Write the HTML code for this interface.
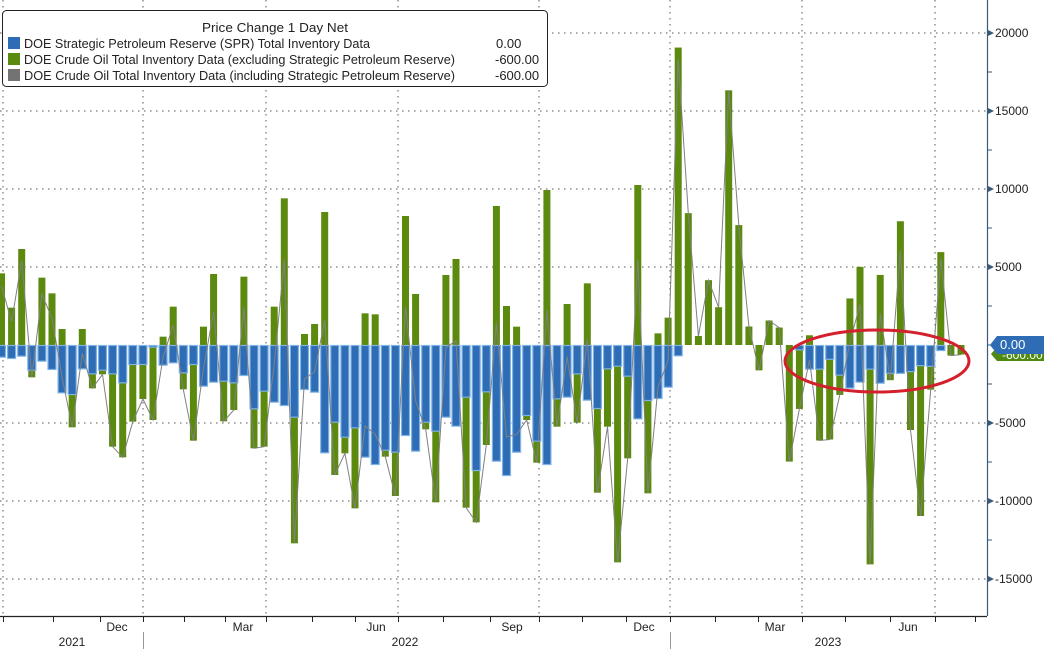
<!DOCTYPE html>
<html><head><meta charset="utf-8"><style>
html,body{margin:0;padding:0;background:#fff;}
svg{display:block;font-family:"Liberation Sans",sans-serif;}
</style></head><body>
<svg id="c" width="1044" height="649" viewBox="0 0 1044 649" xmlns="http://www.w3.org/2000/svg">
<rect width="1044" height="649" fill="#fff"/>
<g stroke="#555" stroke-width="1" stroke-dasharray="1.5,4.5" fill="none">
<line x1="0" y1="33" x2="987" y2="33"/><line x1="0" y1="111" x2="987" y2="111"/>
<line x1="0" y1="189" x2="987" y2="189"/><line x1="0" y1="267" x2="987" y2="267"/>
<line x1="0" y1="423" x2="987" y2="423"/><line x1="0" y1="501" x2="987" y2="501"/>
<line x1="0" y1="579" x2="987" y2="579"/>
<line x1="3" y1="0" x2="3" y2="616"/>
<line x1="143" y1="0" x2="143" y2="616"/><line x1="266" y1="0" x2="266" y2="616"/>
<line x1="398" y1="0" x2="398" y2="616"/><line x1="539" y1="0" x2="539" y2="616"/>
<line x1="670" y1="0" x2="670" y2="616"/><line x1="802" y1="0" x2="802" y2="616"/>
<line x1="935" y1="0" x2="935" y2="616"/>
</g>
<g id="bars"></g>
<ellipse cx="877" cy="361" rx="92" ry="31" fill="none" stroke="#d4202c" stroke-width="3"/>
<!-- axes -->
<line x1="987.5" y1="0" x2="987.5" y2="616" stroke="#3a5a78" stroke-width="1.2"/>
<line x1="0" y1="616.5" x2="987" y2="616.5" stroke="#222" stroke-width="1.2"/>
<g id="ticks" stroke="#222" stroke-width="1"></g>
<g fill="#3a5a78">
<polygon points="988,30 994,33 988,36"/><polygon points="988,108 994,111 988,114"/>
<polygon points="988,186 994,189 988,192"/><polygon points="988,264 994,267 988,270"/>
<polygon points="988,420 994,423 988,426"/><polygon points="988,498 994,501 988,504"/>
<polygon points="988,576 994,579 988,582"/>
</g>
<g font-size="12" fill="#222">
<text x="995" y="37">20000</text><text x="995" y="115">15000</text>
<text x="995" y="193">10000</text><text x="995" y="271">5000</text>
<text x="995" y="427">-5000</text><text x="995" y="505">-10000</text>
<text x="995" y="583">-15000</text>
</g>
<g font-size="12" fill="#222" text-anchor="middle">
<text x="117" y="631">Dec</text><text x="243" y="631">Mar</text><text x="376" y="631">Jun</text>
<text x="512" y="631">Sep</text><text x="644" y="631">Dec</text><text x="775" y="631">Mar</text>
<text x="908" y="631">Jun</text>
<text x="72" y="646">2021</text><text x="405" y="646">2022</text><text x="828" y="646">2023</text>
</g>
<line x1="143.5" y1="632" x2="143.5" y2="649" stroke="#999"/>
<line x1="670.5" y1="632" x2="670.5" y2="649" stroke="#999"/>
<!-- value labels -->
<polygon points="991,354 997,347 1044,347 1044,361 997,361" fill="#4e8a12"/>
<text x="1002" y="359" font-size="12" fill="#fff">-600.00</text>
<polygon points="990,345 997,336 1044,336 1044,354 997,354" fill="#2e6db5"/>
<text x="1000" y="349" font-size="13" fill="#fff">0.00</text>
<!-- legend -->
<rect x="2.5" y="10.5" width="545" height="76" rx="4" fill="#fff" stroke="#222"/>
<text x="275" y="32" font-size="13" text-anchor="middle" fill="#222" textLength="146" lengthAdjust="spacingAndGlyphs">Price Change 1 Day Net</text>
<rect x="8" y="37" width="12" height="12" fill="#2e6db5"/>
<rect x="8" y="53" width="12" height="12" fill="#5b8a0f"/>
<rect x="8" y="69" width="12" height="12" fill="#737373"/>
<g font-size="13" fill="#222">
<text x="24" y="48" textLength="346" lengthAdjust="spacingAndGlyphs">DOE Strategic Petroleum Reserve (SPR) Total Inventory Data</text>
<text x="24" y="64" textLength="431" lengthAdjust="spacingAndGlyphs">DOE Crude Oil Total Inventory Data (excluding Strategic Petroleum Reserve)</text>
<text x="24" y="80" textLength="431" lengthAdjust="spacingAndGlyphs">DOE Crude Oil Total Inventory Data (including Strategic Petroleum Reserve)</text>
<text x="496" y="48">0.00</text>
<text x="495" y="64">-600.00</text>
<text x="495" y="80">-600.00</text>
</g>
</svg>
<script>
(function(){
var Z=345;
// segment A: y=180+zy/3 ; entries [greenEnd, blueEnd] (zy units)
var A=[[280,533],[383,537],[207,530],[592,572],[293,545],[340,570],[447,640],[742,645],[447,568],[625,583],[583,572],[800,583],[832,610],[725,555],[657,555],[720,503],[470,557],[380,550],[628,580],[782,555],[440,620],[282,608],[724,605],[690,610],[290,588],[805,688],[800,635],[380,668],[55,678],[1090,713],[462,630],[432,638],[96,820]];
var B=[[885,728],[820,773],[985,745],[400,833],[403,855],[830,812],[948,818],[108,768],[342,815],[748,728],[967,755],[285,713],[237,740],[983,653],[1027,873],[795,637],[78,845],[378,888],[440,818],[720,708],[848,785],[30,855],[740,658],[372,653],[728,583],[310,662],[938,687],[740,568],[1147,560],[835,590],[15,718],[940,663],[460,657],[413,623]];
var C=[[50,930],[522,898],[872,898],[713,898],[790,898],[172,898],[556,898],[845,898],[970,898],[828,898],[848,898],[1230,898],[1080,913],[870,968],[1170,968],[1167,940],[1040,985],[765,1022],[675,1005],[1523,968],[698,1008],[998,980],[545,980],[1140,975],[1385,958],[1025,960],[633,915],[928,898],[925,898]];
var d=[];
A.forEach(function(p){d.push([180+p[0]/3,180+p[1]/3]);});
B.forEach(function(p){d.push([180+p[0]/3,180+p[1]/3]);});
C.forEach(function(p){d.push([30+p[0]/2.85,30+p[1]/2.85]);});
var ns="http://www.w3.org/2000/svg",g=document.getElementById('bars');
function el(t,a){var e=document.createElementNS(ns,t);for(var k in a)e.setAttribute(k,a[k]);g.appendChild(e);return e;}
var pts=[];
d.forEach(function(p,i){
 var cx=1.5+10.1*i, ge=p[0], be=p[1]; if(be<Z) be=Z;
 var tot;
 if(ge<Z){ el('rect',{x:cx-3.5,y:ge,width:7,height:Z-ge,fill:'#5b8a0f'}); tot=ge+(be-Z);}
 else { el('rect',{x:cx-3.5,y:Z,width:7,height:Math.max(0,ge-Z),fill:'#5b8a0f'}); tot=ge;}
 pts.push(cx.toFixed(1)+','+tot.toFixed(1));
});
d.forEach(function(p,i){
 var cx=1.5+10.1*i, be=p[1];
 if(be>Z+1.5) el('rect',{x:cx-4,y:Z+0.5,width:8,height:be-Z-1,fill:'#2e6db5',stroke:'#7fb2e5','stroke-width':1.2});
});
el('polyline',{points:pts.join(' '),fill:'none',stroke:'#808080','stroke-width':1});
var t=document.getElementById('ticks');
for(var v=-15000;v<=20000;v+=2500){var y=345-v*0.0156;var l=document.createElementNS(ns,'line');l.setAttribute('x1',987);l.setAttribute('x2',992);l.setAttribute('y1',y);l.setAttribute('y2',y);l.setAttribute('stroke','#3a5a78');t.appendChild(l);}
[3,53,100,143,184,225,266,312,355,398,443,490,539,582,626,670,715,758,802,845,890,935,975].forEach(function(x){var l=document.createElementNS(ns,'line');l.setAttribute('x1',x+.5);l.setAttribute('x2',x+.5);l.setAttribute('y1',616);l.setAttribute('y2',622);t.appendChild(l);});
})();
</script>
</body></html>
